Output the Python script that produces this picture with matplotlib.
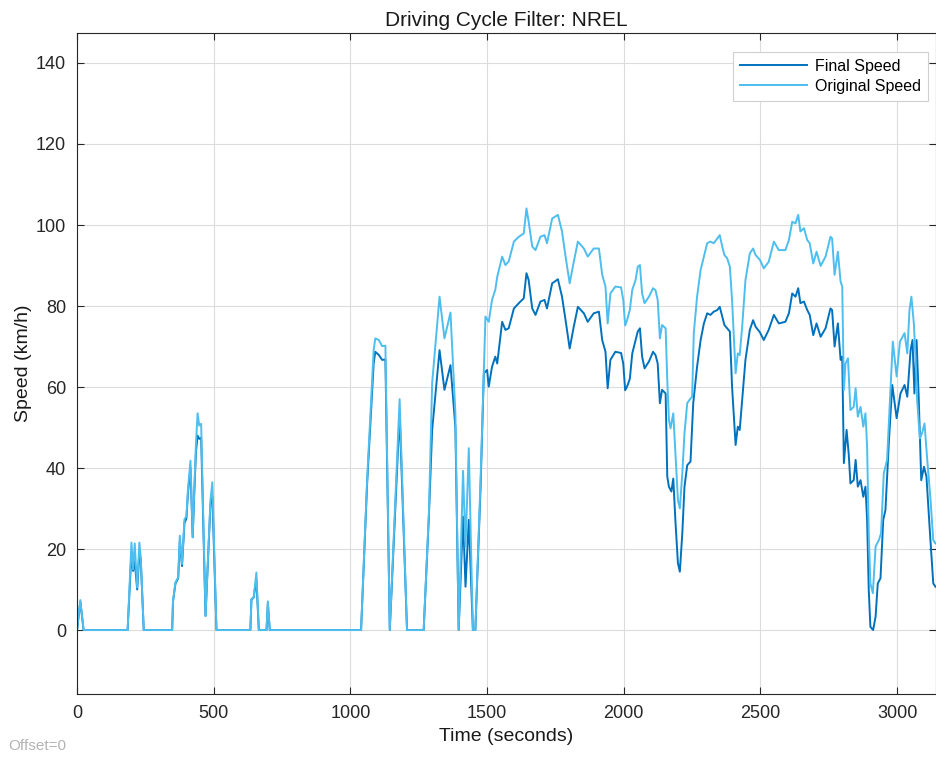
import matplotlib
matplotlib.use("Agg")
import matplotlib.pyplot as plt

# Original speed trace (km/h)
orig_time = [
    0, 12, 24, 185, 199, 205, 211, 220, 228, 233, 244, 348, 351, 360, 370, 376,
    384, 393, 400, 406, 415, 423, 429, 435, 441, 447, 454, 470, 488, 495, 510,
    634, 638, 646, 656, 665, 693, 698, 705, 1039, 1061, 1085, 1091, 1104, 1116,
    1128, 1144, 1180, 1207, 1268, 1287, 1299, 1326, 1344, 1366, 1384, 1396,
    1412, 1421, 1433, 1448, 1457, 1476, 1494, 1506, 1518, 1530, 1537, 1555,
    1567, 1579, 1598, 1616, 1634, 1644, 1652, 1665, 1677, 1695, 1710, 1719,
    1738, 1759, 1774, 1787, 1802, 1817, 1832, 1854, 1868, 1890, 1909, 1921,
    1933, 1941, 1951, 1969, 1990, 1998, 2005, 2012, 2022, 2031, 2043, 2051,
    2059, 2067, 2076, 2092, 2107, 2116, 2124, 2132, 2140, 2153, 2159, 2165,
    2171, 2181, 2189, 2198, 2205, 2214, 2222, 2232, 2242, 2250, 2256, 2268,
    2281, 2293, 2305, 2317, 2329, 2342, 2351, 2360, 2368, 2378, 2388, 2396,
    2409, 2417, 2424, 2433, 2445, 2461, 2473, 2482, 2498, 2512, 2530, 2549,
    2567, 2591, 2604, 2616, 2628, 2638, 2646, 2659, 2671, 2680, 2693, 2705,
    2720, 2738, 2756, 2762, 2771, 2783, 2793, 2799, 2805, 2811, 2820, 2829,
    2841, 2848, 2856, 2866, 2876, 2884, 2890, 2896, 2902, 2911, 2921, 2933,
    2941, 2951, 2963, 2976, 2984, 2998, 3010, 3027, 3037, 3045, 3052, 3061,
    3067, 3073, 3083, 3091, 3100, 3110, 3122, 3132, 3140,
]
orig_speed = [
    0, 7.4, 0, 0, 21.6, 15, 21.4, 10.5, 21.6, 18, 0, 0, 7.2, 11.8, 13, 23.3,
    16.3, 27.4, 28, 35, 41.8, 22.9, 35, 46, 53.5, 50.5, 50.9, 3.5, 32, 36.5, 0,
    0, 7.7, 8, 14.2, 0, 0, 7.1, 0, 0, 37, 69.1, 72, 71.6, 70.1,
    70.2, 0, 57, 0, 0, 28.8, 61, 82.3, 72, 78.4, 53.5, 0,
    39.3, 20.6, 44.9, 0, 0, 37, 77.4, 76.1, 81.5, 84, 87.2, 92.2,
    90.1, 91, 95.9, 97.1, 97.9, 104.1, 100.8, 94.7, 93.8, 97.1, 97.5, 95.5,
    101.6, 102.5, 98.4, 92.2, 85.6, 90.9, 95.9, 94.2, 92.2, 94.2, 94.2, 87.7,
    84.8, 75.7, 83.1, 84.8, 84.6, 81.5, 75.2, 76.5, 79, 84, 86.4, 89.7,
    90.1, 83.1, 80.7, 82.3, 84.4, 83.9, 81.5, 72, 75.3, 74.5, 61.7, 51.9,
    49.8, 53.5, 43.6, 32.1, 30, 38.7, 48.6, 56, 57, 57.6, 73.3, 82.3,
    88.9, 92.2, 95.5, 95.9, 95.5, 96.7, 97.5, 94.7, 92.6, 91.8, 89.7, 81.5,
    63.4, 68.3, 67.9, 74.9, 86.4, 93, 94.2, 92.6, 91.4, 89.3, 90.9, 95.9,
    93.8, 93.8, 96.3, 100.8, 100.4, 102.5, 98.4, 99.2, 96.3, 95.5, 90.5, 93.4,
    89.9, 92.2, 97.1, 96.7, 87.7, 93.4, 86, 84.8, 59.3, 65.8, 67.1, 54.3,
    55.1, 59.7, 52.7, 55.1, 50.2, 53.5, 45.3, 23.9, 11.5, 9.1, 20.6, 22.2,
    23.9, 38.7, 42, 60.1, 71.2, 62.6, 71.2, 73.3, 68.3, 79, 82.3, 75.7,
    67.5, 56.8, 47.3, 48.6, 51, 42, 32.1, 22.2, 21.4,
]

# Filtered (final) speed trace (km/h)
final_time = [
    0, 12, 24, 185, 199, 205, 211, 220, 228, 233, 244, 348, 351, 360, 370, 376,
    384, 393, 400, 406, 415, 423, 429, 435, 441, 447, 454, 470, 488, 495, 510,
    634, 638, 646, 656, 665, 693, 698, 705, 1039, 1061, 1085, 1091, 1104, 1116,
    1128, 1144, 1180, 1207, 1268, 1287, 1299, 1326, 1344, 1366, 1384, 1396,
    1412, 1421, 1433, 1448, 1457, 1476, 1488, 1500, 1506, 1518, 1530, 1537,
    1555, 1567, 1579, 1598, 1616, 1634, 1644, 1652, 1665, 1677, 1695, 1710,
    1719, 1738, 1759, 1774, 1787, 1802, 1817, 1832, 1854, 1868, 1890, 1909,
    1921, 1933, 1941, 1951, 1969, 1990, 1998, 2005, 2012, 2022, 2031, 2043,
    2051, 2059, 2067, 2076, 2092, 2107, 2116, 2124, 2132, 2140, 2153, 2159,
    2165, 2174, 2181, 2189, 2198, 2205, 2214, 2222, 2232, 2244, 2254, 2268,
    2281, 2293, 2305, 2317, 2329, 2342, 2351, 2360, 2368, 2378, 2388, 2396,
    2409, 2417, 2424, 2433, 2445, 2461, 2473, 2482, 2498, 2512, 2530, 2549,
    2567, 2591, 2604, 2616, 2628, 2638, 2646, 2659, 2671, 2680, 2693, 2705,
    2720, 2738, 2756, 2762, 2771, 2783, 2793, 2799, 2805, 2815, 2823, 2829,
    2841, 2848, 2856, 2866, 2876, 2884, 2890, 2896, 2902, 2912, 2921, 2929,
    2939, 2949, 2957, 2970, 2982, 2998, 3012, 3027, 3037, 3049, 3056, 3063,
    3071, 3079, 3088, 3098, 3107, 3120, 3132, 3140,
]
final_speed = [
    0, 7.0, 0, 0, 19, 14.6, 17, 10, 19, 17.5, 0, 0, 7, 11.5, 12.8, 22,
    15.8, 26.5, 27.5, 34, 40, 22.9, 34, 44, 48, 47.2, 47.5, 3.5, 31, 33, 0,
    0, 7.5, 8, 12.5, 0, 0, 6.5, 0, 0, 36, 65.8, 68.7, 67.9, 66.7,
    66.8, 0, 53.5, 0, 0, 28, 49.4, 69.1, 59.3, 65.4, 50, 0,
    28, 10.7, 27.2, 0, 0, 35, 63.4, 64.2, 60.1, 65, 67.5, 65.8,
    76.1, 74.1, 74.5, 79.4, 80.7, 81.9, 88.1, 86.4, 79.4, 77.8, 81.1, 81.5,
    79.4, 85.6, 86.6, 82.3, 76.5, 69.5, 74.9, 79.8, 78.2, 76.1, 78.2, 78.6,
    71.6, 68.7, 59.7, 66.7, 68.7, 68.4, 65.8, 59.2, 60.1, 62, 68.3, 71.6,
    73.7, 74.5, 67.5, 64.6, 66.3, 68.7, 67.9, 65.8, 56, 59.3, 58.4, 37.9,
    35.4, 34.2, 37.4, 26.7, 16.5, 14.4, 23.9, 35.4, 40.7, 41.6, 56, 65,
    71.6, 75.7, 78.2, 77.8, 78.6, 79, 79.8, 77.4, 75.3, 74.5, 73.7, 60.1,
    45.7, 50.2, 49.4, 56.8, 66.7, 74.1, 76.5, 74.9, 73.5, 71.6, 74.1, 77.8,
    75.7, 76.1, 78.2, 83.1, 82.3, 84.4, 80.7, 81.1, 79, 77.8, 72.8, 75.7,
    72.4, 74.5, 79.4, 79, 70, 75.7, 66.7, 67.5, 41.2, 49.4, 43.2, 36.2,
    37, 42, 35.4, 37, 32.9, 35.4, 27.2, 9.9, 0.8, 0, 3.3, 11.5,
    12.8, 27.2, 29.6, 46.9, 60.5, 52.3, 58.4, 60.5, 57.6, 69.1, 71.6, 58.4,
    71.6, 56.8, 37, 40.3, 37.9, 23.9, 11.5, 10.7,
]

x_ticks = [0, 500, 1000, 1500, 2000, 2500, 3000]
y_ticks = [0, 20, 40, 60, 80, 100, 120, 140]

plt.rcParams["font.family"] = ["Liberation Sans", "DejaVu Sans"]

fig = plt.figure(figsize=(9.36, 7.59), dpi=100)
ax = fig.add_axes([0.0823, 0.0856, 0.9177, 0.8709])

ax.plot(final_time, final_speed, color="#0072BD", linewidth=1.4, label="Final Speed")
ax.plot(orig_time, orig_speed, color="#4DBEEE", linewidth=1.4, label="Original Speed")

ax.set_xlim(0, 3142)
ax.set_ylim(-15.8, 147.4)
ax.set_xticks(x_ticks)
ax.set_yticks(y_ticks)
ax.tick_params(direction="in", length=5, width=0.8, labelsize=13,
               top=True, right=True, colors="#262626", pad=8)
ax.grid(True, color="#dcdcdc", linewidth=0.8)
ax.set_axisbelow(True)
for spine in ax.spines.values():
    spine.set_color("#262626")
    spine.set_linewidth(0.8)

ax.set_title("Driving Cycle Filter: NREL", fontsize=15, color="#1a1a1a", pad=5)
ax.set_xlabel("Time (seconds)", fontsize=14, color="#1a1a1a", labelpad=4)
ax.set_ylabel("Speed (km/h)", fontsize=14, color="#1a1a1a", labelpad=3)

leg = ax.legend(loc="upper right", bbox_to_anchor=(0.9907, 0.972), borderaxespad=0,
                fontsize=11.5, handlelength=4.2, handletextpad=0.5, fancybox=False,
                framealpha=1, edgecolor="#d0d0d0", borderpad=0.45, labelspacing=0.3)
leg.get_frame().set_linewidth(0.8)

fig.text(0.009, 0.012, "Offset=0", fontsize=11, color="#b4b4b4")

fig.savefig("out.png", dpi=100)
